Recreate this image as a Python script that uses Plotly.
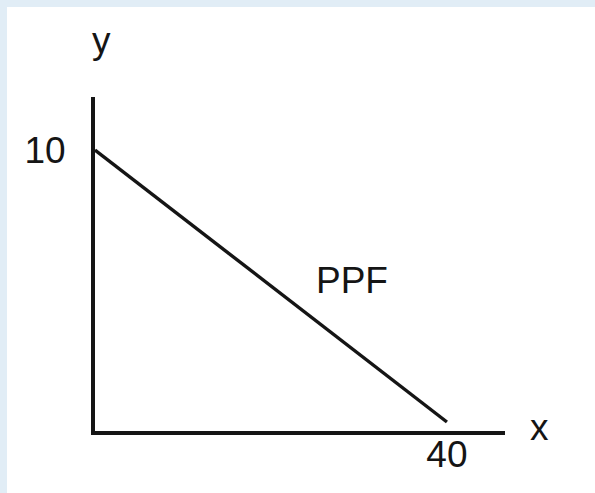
import plotly.graph_objects as go

# Production possibility frontier: intercepts on each axis
ppf_x = [0, 40]
ppf_y = [10, 0]
x_ticks = [40]
y_ticks = [10]
curve_label = "PPF"

W, H = 595, 493
FONT = "Liberation Sans, Arial, Helvetica, sans-serif"
INK = "#151515"

fig = go.Figure()

fig.add_trace(go.Scatter(
    x=ppf_x, y=ppf_y, mode="lines",
    line=dict(color=INK, width=3.4),
    hoverinfo="skip", showlegend=False,
))

fig.add_annotation(
    x=29.2, y=5.2, xref="x", yref="y", text=curve_label, showarrow=False,
    font=dict(family=FONT, size=37, color=INK),
)

# axis names placed beside the axis ends
fig.add_annotation(
    x=90 / W, y=1 - 18 / H, xref="paper", yref="paper", text="y", showarrow=False,
    font=dict(family=FONT, size=37, color=INK),
)
fig.add_annotation(
    x=551 / W, y=1 - 450 / H, xref="paper", yref="paper", text="x", showarrow=False,
    font=dict(family=FONT, size=37, color=INK),
)

# light frame along the top and left edges
frame = "#e1edf6"
fig.add_shape(type="rect", xref="paper", yref="paper", x0=0, x1=1, y0=1 - 7 / H, y1=1,
              fillcolor=frame, line_width=0, layer="below")
fig.add_shape(type="rect", xref="paper", yref="paper", x0=0, x1=7 / W, y0=0, y1=1,
              fillcolor=frame, line_width=0, layer="below")

fig.update_layout(
    width=W, height=H,
    margin=dict(l=0, r=0, t=0, b=0),
    paper_bgcolor="white", plot_bgcolor="rgba(0,0,0,0)",
    font=dict(family=FONT, color=INK),
    xaxis=dict(
        domain=[95 / W, 505 / W], range=[0, 46.6],
        showline=True, linecolor=INK, linewidth=4,
        showgrid=False, zeroline=False,
        tickvals=x_ticks, ticktext=[str(v) for v in x_ticks],
        ticks="", tickfont=dict(family=FONT, size=37, color=INK),
        ticklabelstandoff=-12, fixedrange=True,
    ),
    yaxis=dict(
        domain=[1 - 431 / H, 1 - 97 / H], range=[-0.33, 11.95],
        showline=True, linecolor=INK, linewidth=4,
        showgrid=False, zeroline=False,
        tickvals=y_ticks, ticktext=[str(v) for v in y_ticks],
        ticks="", tickfont=dict(family=FONT, size=37, color=INK),
        ticklabelstandoff=18, fixedrange=True,
    ),
)

fig.write_html("out.html")
